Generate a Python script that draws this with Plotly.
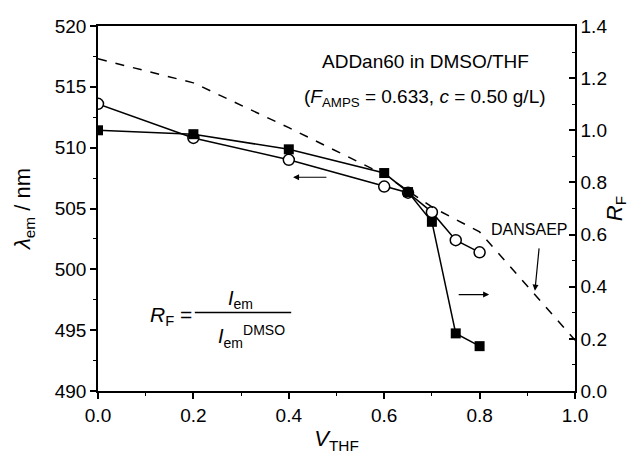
import plotly.graph_objects as go

v_thf = [0.0, 0.2, 0.4, 0.6, 0.65, 0.7, 0.75, 0.8]
lambda_em = [513.6, 510.8, 509.0, 506.8, 506.3, 504.7, 502.4, 501.4]
rf_addan = [1.0, 0.985, 0.927, 0.836, 0.763, 0.649, 0.221, 0.172]
v_dans = [0.0, 0.2, 0.4, 0.6, 0.7, 0.8, 1.0]
rf_dans = [1.274, 1.182, 1.01, 0.83, 0.706, 0.61, 0.195]

FONT = "Liberation Sans, Arial, sans-serif"

fig = go.Figure()
fig.add_trace(go.Scatter(x=v_dans, y=rf_dans, yaxis="y2", mode="lines",
                         line=dict(color="black", width=1.5, dash="dash"), showlegend=False))
fig.add_trace(go.Scatter(x=v_thf, y=lambda_em, mode="lines+markers",
                         line=dict(color="black", width=1.5),
                         marker=dict(symbol="circle", size=11, color="white",
                                     line=dict(color="black", width=1.5)), showlegend=False))
fig.add_trace(go.Scatter(x=v_thf, y=rf_addan, yaxis="y2", mode="lines+markers",
                         line=dict(color="black", width=1.5),
                         marker=dict(symbol="square", size=10, color="black"), showlegend=False))

ann = []
ann.append(dict(x=0.686, y=517.06, xref="x", yref="y", text="ADDan60 in DMSO/THF",
                showarrow=False, font=dict(size=19)))
ann.append(dict(x=0.686, y=514.1, xref="x", yref="y",
                text="(<i>F</i><sub>AMPS</sub> = 0.633, <i>c</i> = 0.50 g/L)",
                showarrow=False, font=dict(size=19)))
ann.append(dict(x=0.904, y=0.618, xref="x", yref="y2", text="DANSAEP",
                showarrow=False, font=dict(size=16)))
ann.append(dict(x=0.916, y=0.385, ax=0.925, ay=0.553, xref="x", yref="y2",
                axref="x", ayref="y2", text="", showarrow=True, arrowhead=2,
                arrowsize=1, arrowwidth=1.2, arrowcolor="black"))
ann.append(dict(x=0.409, y=507.57, ax=0.482, ay=507.57, xref="x", yref="y",
                axref="x", ayref="y", text="", showarrow=True, arrowhead=2,
                arrowsize=1, arrowwidth=1.2, arrowcolor="black"))
ann.append(dict(x=0.82, y=0.37, ax=0.753, ay=0.37, xref="x", yref="y2",
                axref="x", ayref="y2", text="", showarrow=True, arrowhead=2,
                arrowsize=1, arrowwidth=1.2, arrowcolor="black"))
ann.append(dict(x=0.152, y=496.2, xref="x", yref="y", text="<i>R</i><sub>F</sub> =",
                showarrow=False, font=dict(size=21)))
ann.append(dict(x=0.298, y=497.5, xref="x", yref="y", text="<i>I</i><sub>em</sub>",
                showarrow=False, font=dict(size=20)))
ann.append(dict(x=0.322, y=494.5, xref="x", yref="y",
                text="<i>I</i><sub>em</sub><sup>DMSO</sup>",
                showarrow=False, font=dict(size=20)))

fig.add_shape(type="line", x0=0.203, x1=0.405, y0=496.45, y1=496.45,
              xref="x", yref="y", line=dict(color="black", width=1.5))

fig.update_layout(
    width=637, height=459,
    margin=dict(l=98, r=62, t=26, b=66),
    paper_bgcolor="white", plot_bgcolor="white",
    font=dict(family=FONT, size=19, color="black"),
    annotations=ann,
    xaxis=dict(range=[0, 1], dtick=0.2, tickformat=".1f", showgrid=False, zeroline=False,
               showline=True, linecolor="black", linewidth=1.5, mirror=True,
               ticks="outside", ticklen=6, tickwidth=1.5, tickcolor="black",
               minor=dict(dtick=0.1, ticks="outside", ticklen=3, tickwidth=1.2, tickcolor="black"),
               title=dict(text="<i>V</i><sub>THF</sub>", font=dict(size=22), standoff=6)),
    yaxis=dict(range=[490, 520], dtick=5, showgrid=False, zeroline=False,
               showline=True, linecolor="black", linewidth=1.5,
               ticks="outside", ticklen=6, tickwidth=1.5, tickcolor="black",
               minor=dict(dtick=2.5, ticks="outside", ticklen=3, tickwidth=1.2, tickcolor="black"),
               title=dict(text="<i>λ</i><sub>em</sub> / nm", font=dict(size=22), standoff=18)),
    yaxis2=dict(range=[0, 1.4], dtick=0.2, tickformat=".1f", overlaying="y", side="right",
                showgrid=False, zeroline=False,
                showline=True, linecolor="black", linewidth=1.5,
                ticks="inside", ticklen=6, tickwidth=1.5, tickcolor="black",
                minor=dict(dtick=0.1, ticks="inside", ticklen=3, tickwidth=1.2, tickcolor="black"),
                title=dict(text="<i>R</i><sub>F</sub>", font=dict(size=22), standoff=0)),
)

fig.write_html("out.html")
